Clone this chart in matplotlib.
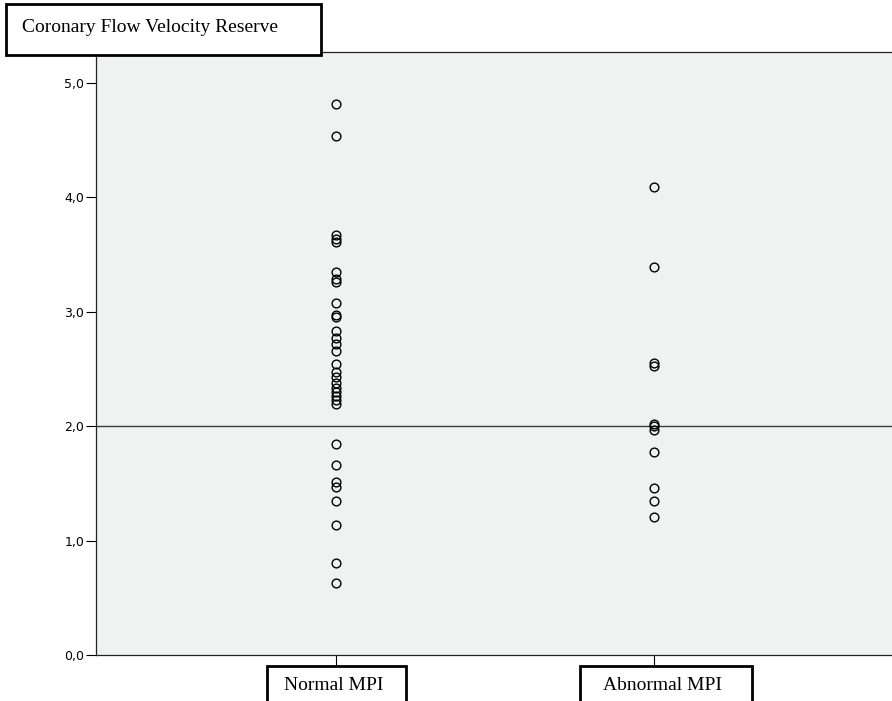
import matplotlib
matplotlib.use("Agg")
import matplotlib.pyplot as plt
from matplotlib.patches import Rectangle
from matplotlib.ticker import FuncFormatter
import matplotlib.transforms as mtransforms

# Coronary flow velocity reserve per patient, grouped by MPI result
groups = ["Normal MPI", "Abnormal MPI"]
cfvr_normal = [4.82, 4.54, 3.67, 3.64, 3.61, 3.35, 3.29, 3.26, 3.08, 2.97, 2.95,
               2.83, 2.77, 2.72, 2.66, 2.54, 2.47, 2.43, 2.38, 2.33, 2.30, 2.26,
               2.23, 2.19, 1.84, 1.66, 1.51, 1.47, 1.35, 1.14, 0.80, 0.63]
cfvr_abnormal = [4.09, 3.39, 2.55, 2.53, 2.02, 2.00, 1.97, 1.77, 1.46, 1.35, 1.21]
cutoff = 2.0
y_ticks = [0.0, 1.0, 2.0, 3.0, 4.0, 5.0]

fig = plt.figure(figsize=(8.92, 7.01), dpi=100, facecolor="white")
ax = fig.add_axes([0.1076, 0.0656, 0.8924, 0.8602])
ax.set_facecolor("#f0f1f1")

for i, vals in enumerate([cfvr_normal, cfvr_abnormal]):
    ax.plot([i] * len(vals), vals, "o", ms=6.3, mfc="none", mec="black", mew=1.0,
            ls="none", zorder=3)

ax.axhline(cutoff, color="#3a3a3a", lw=1.0, zorder=2)

ax.set_xlim(-0.755, 1.748)
ax.set_ylim(0, 5.27)
ax.set_yticks(y_ticks)
ax.yaxis.set_major_formatter(FuncFormatter(lambda v, p: f"{v:.1f}".replace(".", ",")))
ax.tick_params(axis="y", direction="out", length=7, width=0.8, labelsize=9, pad=1.5)
ax.set_xticks([0, 1])
ax.set_xticklabels([])
ax.tick_params(axis="x", direction="out", length=8, width=0.8)

ax.spines["right"].set_visible(False)
for side in ("left", "bottom", "top"):
    ax.spines[side].set_linewidth(0.9)
    ax.spines[side].set_color("#222222")

# Boxed category labels under the axis
serif = "Liberation Serif"
trans = mtransforms.blended_transform_factory(ax.transData, ax.transAxes)
box_extents = [(-0.217, 0.220), (-0.233, 0.308)]
for i, (name, (lo, hi)) in enumerate(zip(groups, box_extents)):
    ax.add_patch(Rectangle((i + lo, -0.12), hi - lo, 0.102, transform=trans,
                           fc="white", ec="black", lw=2.0, clip_on=False))
    ax.text(i + (lo + hi) / 2 - 0.01, -0.051, name, transform=trans, ha="center",
            va="center", fontsize=14, family=serif)

# Boxed axis title in the top-left corner
fig.patches.append(Rectangle((0.0067, 0.921), 0.353, 0.0728, transform=fig.transFigure,
                             fc="white", ec="black", lw=2.0, zorder=5))
fig.text(0.025, 0.961, "Coronary Flow Velocity Reserve", ha="left", va="center",
         fontsize=14, family=serif, zorder=6)

fig.savefig("out.png", dpi=100, facecolor="white")
